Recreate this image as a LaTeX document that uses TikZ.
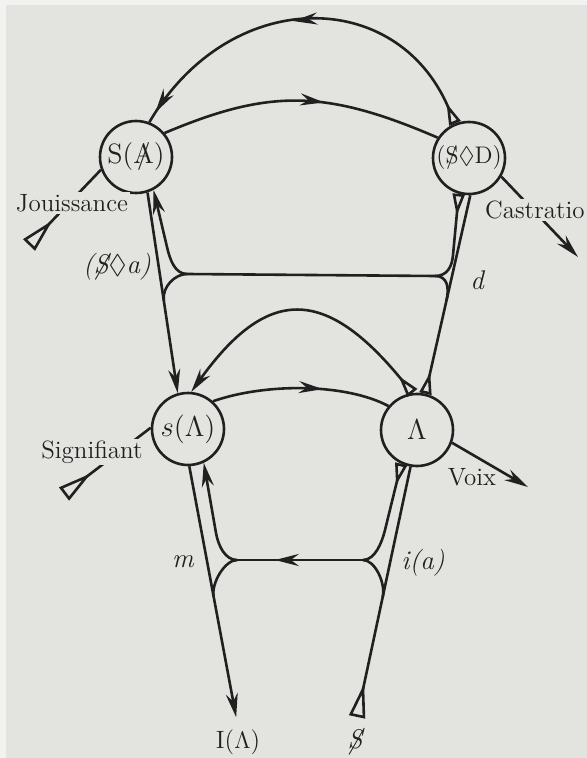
\documentclass[tikz,border=0pt]{standalone}
\usepackage{amssymb}
\usepackage{fontspec}
\usepackage{xcolor}
\usepackage{tikz}
\usetikzlibrary{arrows.meta,decorations.markings,calc}
\definecolor{paper}{HTML}{E3E3E0}
\definecolor{edge}{HTML}{F2F2F0}
\definecolor{ink}{HTML}{202020}
\newcommand{\barS}{\ooalign{S\cr\hidewidth/\hidewidth}}
\newcommand{\barA}{\ooalign{A\cr\hidewidth/\hidewidth}}

\begin{document}
\begin{tikzpicture}[
    x=0.5pt, y=-0.5pt,
    lhead/.tip={Stealth[length=12pt,width=6pt,inset=4pt]},
    ltail/.tip={Triangle[open,reversed,length=17pt,width=8pt]},
    stub/.tip={Triangle[open,reversed,length=11pt,width=6pt]},
    wire/.style={draw=ink, line width=1.3pt},
    spot/.style={circle, draw=ink, line width=1.3pt, minimum size=36pt,
                 inner sep=0pt, text=ink, font=\fontsize{14}{16}\selectfont},
    word/.style={text=ink, font=\fontsize{12.5}{14}\selectfont, inner sep=1pt},
    sym/.style={text=ink, font=\itshape\fontsize{13.5}{15}\selectfont, inner sep=1pt},
    mid/.style={postaction={decorate, decoration={markings,
                mark=at position #1 with {\arrow{lhead}}}}},
]
\fill[paper] (0,0) rectangle (587,758);
\fill[edge] (0,0) rectangle (6,758);
\fill[edge] (0,0) rectangle (587,5);
\useasboundingbox (0,0) rectangle (587,758);

% the four knots
\node[spot] (SA) at (136,157) {S(\barA)};
\node[spot,font=\fontsize{12}{14}\selectfont] (SD) at (469,158) {(\barS$\lozenge$D)};
\node[spot] (sA) at (188,429) {$s(\Lambda)$};
\node[spot] (A) at (417,430) {$\Lambda$};

\node[word] (IA) at (238,742) {I($\Lambda$)};
\node[sym] (S0) at (355,742) {\barS};

\coordinate (jou0) at (29,245);
\coordinate (sig0) at (64,494);
\coordinate (cas1) at (578,257);
\coordinate (voi1) at (528,487);
\coordinate (aj) at (187,274);
\coordinate (dj) at (435,276);
\coordinate (mj) at (237,560);
\coordinate (ij) at (363,560);

% upper chain
\draw[wire,ltail-] (jou0) -- (SA.200);
\draw[wire,mid=0.58] (SA.40) .. controls (269,89) and (325,89) .. (SD.147);
\draw[wire,-lhead] (SD.-30) -- (cas1);
\draw[wire,stub-,mid=0.53,mid=0.97] (SD.112) .. controls (397,-14) and (229,-14) .. (SA.69);

% lower chain
\draw[wire,ltail-] (sig0) -- (sA.178);
\draw[wire,mid=0.62] (sA.48) .. controls (265,383) and (345,383) .. (A.140);
\draw[wire,-lhead] (A.-20) -- (voi1);
\draw[wire,stub-lhead] (A.97) .. controls (325,286) and (267,286) .. (sA.85);

% verticals
\draw[wire,-lhead] (SA.-72) -- (sA.106);
\draw[wire,stub-] (A.77) -- (SD.-88);
\draw[wire,-lhead,shorten >=5pt] (sA.-88) -- (IA.north);
\draw[wire,ltail-,shorten <=5pt] (S0.north) -- (A.-100);

\coordinate (q1) at ($(SA.-72)!0.54!(sA.106)$);
\coordinate (q2) at ($(SD.-88)!0.53!(A.77)$);
\coordinate (q3) at ($(sA.-88)!0.5!(IA.north)$);
\coordinate (q4) at ($(S0.north)!0.5!(A.-100)$);

% d -- ($a) bar
\draw[wire] (dj) -- (aj);
\draw[wire,stub-] (SD.-106) -- (453,255) .. controls (452,267) and (447,276) .. (dj);
\draw[wire] (dj) .. controls (447,276) and ($(q2)!7pt!(SD.-88)$) .. (q2);
\draw[wire,-lhead] (aj) .. controls (175,274) and (170,260) .. (167,247) -- (SA.-62);
\draw[wire] (aj) .. controls (175,274) and ($(q1)!7pt!(SA.-72)$) .. (q1);

% i(a) -- m bar
\draw[wire,mid=0.7] (ij) -- (mj);
\draw[wire,stub-] (A.-115) -- (385,530) .. controls (381.9,542.6) and (375,560) .. (ij);
\draw[wire] (ij) .. controls (375,560) and ($(q4)!7pt!(A.-100)$) .. (q4);
\draw[wire,-lhead] (mj) .. controls (225,560) and (218.3,545.7) .. (216,533) -- (sA.-65);
\draw[wire] (mj) .. controls (225,560) and ($(q3)!7pt!(sA.-88)$) .. (q3);

% labels
\node[word,fill=paper] (jou) at (72,203) {Jouissance};
\node[word,fill=paper] (sig) at (92,452) {Signifiant};
\node[word,fill=paper,anchor=east] (cas) at (587,210) {Castratio};
\node[word] (voix) at (472,477) {Voix};
\node[sym] (sa) at (117,267) {(\barS$\lozenge$a)};
\node[sym] (dd) at (477,280) {d};
\node[sym] (mm) at (183,562) {m};
\node[sym] (ia) at (423,563) {i(a)};
\end{tikzpicture}
\end{document}
